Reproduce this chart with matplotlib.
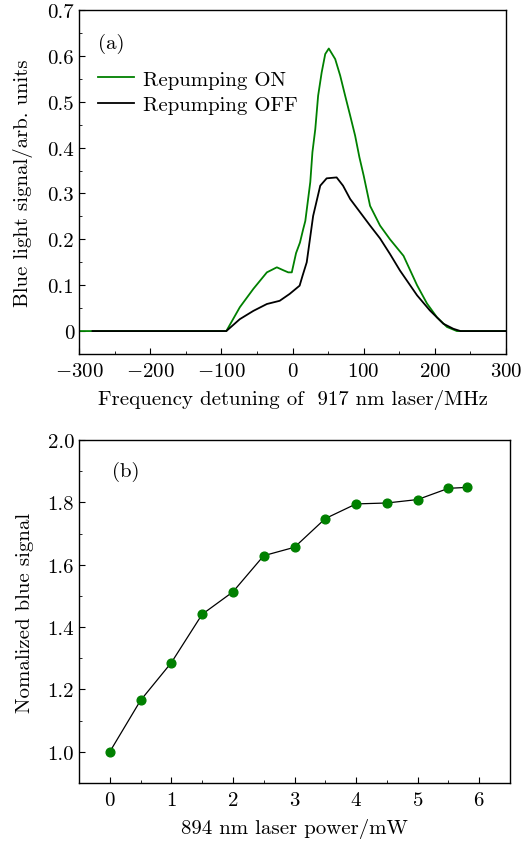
import numpy as np
import matplotlib
matplotlib.use("Agg")
from matplotlib import pyplot as plt
from matplotlib.ticker import MultipleLocator

plt.rcParams['font.family'] = ['cmr10', 'DejaVu Serif']
plt.rcParams['mathtext.fontset'] = 'cm'
plt.rcParams['axes.formatter.use_mathtext'] = True
plt.rcParams['axes.unicode_minus'] = True

FS = 15

# (a) spectra
freq_on = [-300, -200, -93, -74, -55, -36, -22, -12, -6, -1, 5, 10.5, 15, 18, 25, 28,
           32, 36, 41, 46, 51, 60, 67, 74, 81, 88, 94, 100, 109, 123, 137, 156,
           175, 189, 203, 217, 231, 300]
sig_on = [0.0, 0.0, 0.0, 0.052, 0.092, 0.128, 0.139, 0.132, 0.128, 0.128, 0.17, 0.193,
          0.222, 0.24, 0.325, 0.39, 0.44, 0.513, 0.564, 0.604, 0.616, 0.593, 0.557,
          0.513, 0.47, 0.426, 0.379, 0.339, 0.273, 0.23, 0.20, 0.164, 0.10, 0.06,
          0.03, 0.009, 0.0, 0.0]

freq_off = [-281, -200, -93, -74, -55, -36, -18, -4, 10, 14, 20, 29, 39, 48, 62, 71,
            81, 95, 109, 123, 137, 151, 175, 193, 212, 226, 236, 300]
sig_off = [0.0, 0.0, 0.0, 0.026, 0.044, 0.059, 0.066, 0.081, 0.099, 0.12, 0.15, 0.251,
           0.317, 0.333, 0.335, 0.317, 0.288, 0.259, 0.23, 0.202, 0.168, 0.132, 0.078,
           0.045, 0.016, 0.005, 0.0, 0.0]

# (b) normalized signal vs repump power
power = [0, 0.5, 1, 1.5, 2, 2.5, 3, 3.5, 4, 4.5, 5, 5.5, 5.8]
norm_sig = [1.0, 1.165, 1.286, 1.441, 1.513, 1.629, 1.656, 1.748, 1.795, 1.798,
            1.809, 1.845, 1.848]

fig = plt.figure(figsize=(5.27, 8.45), dpi=100)
ax1 = fig.add_axes([79/527, 1-355/845, 427/527, 344/845])
ax2 = fig.add_axes([79/527, 1-784/845, 431/527, 343/845])

green = '#008000'
ax1.plot(freq_on, sig_on, color=green, lw=1.3, label='Repumping ON')
ax1.plot(freq_off, sig_off, color='black', lw=1.3, label='Repumping OFF')
ax1.set_xlim(-300, 300)
ax1.set_ylim(-0.05, 0.7)
ax1.xaxis.set_major_locator(MultipleLocator(100))
ax1.xaxis.set_minor_locator(MultipleLocator(50))
ax1.yaxis.set_minor_locator(MultipleLocator(0.05))
ax1.set_yticks([0, 0.1, 0.2, 0.3, 0.4, 0.5, 0.6, 0.7])
ax1.set_yticklabels(['0', '0.1', '0.2', '0.3', '0.4', '0.5', '0.6', '0.7'])
ax1.set_xlabel('Frequency detuning of  917 nm laser/MHz', fontsize=FS, labelpad=6)
ax1.set_ylabel('Blue light signal/arb. units', fontsize=FS, labelpad=10)
ax1.text(0.045, 0.905, '(a)', transform=ax1.transAxes, fontsize=FS, va='center')
ax1.legend(loc='upper left', bbox_to_anchor=(0.0, 0.88), frameon=False, fontsize=FS,
           handlelength=1.75, handletextpad=0.4, labelspacing=0.35)

ax2.plot(power, norm_sig, color='black', lw=0.9, marker='o', markersize=6.3,
         markerfacecolor=green, markeredgecolor=green)
ax2.set_xlim(-0.5, 6.5)
ax2.set_ylim(0.9, 2.0)
ax2.xaxis.set_major_locator(MultipleLocator(1))
ax2.xaxis.set_minor_locator(MultipleLocator(0.5))
ax2.yaxis.set_minor_locator(MultipleLocator(0.1))
ax2.set_yticks([1.0, 1.2, 1.4, 1.6, 1.8, 2.0])
ax2.set_yticklabels(['1.0', '1.2', '1.4', '1.6', '1.8', '2.0'])
ax2.set_xlabel('894 nm laser power/mW', fontsize=FS, labelpad=6)
ax2.set_ylabel('Nomalized blue signal', fontsize=FS, labelpad=10)
ax2.text(0.077, 0.91, '(b)', transform=ax2.transAxes, fontsize=FS, va='center')

for ax in (ax1, ax2):
    ax.tick_params(which='both', direction='in', top=False, right=False, labelsize=FS)
    ax.tick_params(axis='x', which='both', pad=6)
    ax.tick_params(which='major', length=4)
    ax.tick_params(which='minor', length=2)
    for s in ax.spines.values():
        s.set_linewidth(1.0)

fig.savefig('out.png', dpi=100)
